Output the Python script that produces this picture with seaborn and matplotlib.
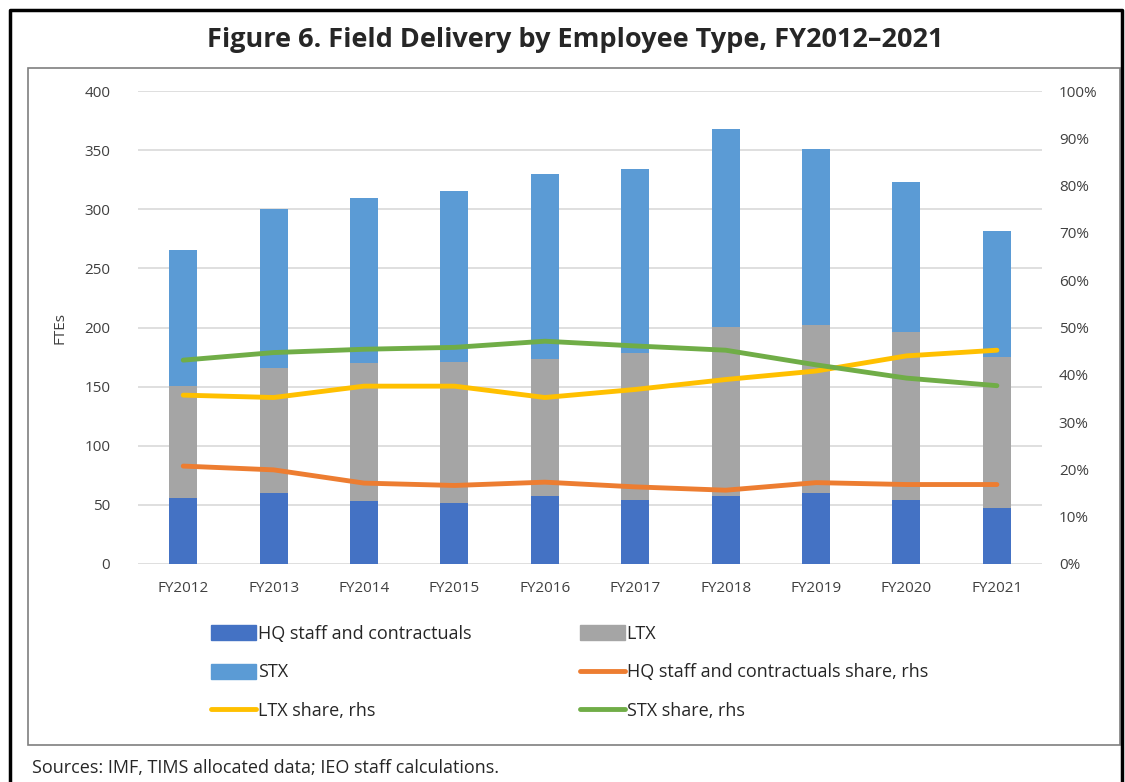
import numpy as np
import pandas as pd
import matplotlib
matplotlib.use("Agg")
import matplotlib.pyplot as plt
from matplotlib.patches import Patch, Rectangle
from matplotlib.lines import Line2D
import seaborn as sns

years = ["FY2012", "FY2013", "FY2014", "FY2015", "FY2016",
         "FY2017", "FY2018", "FY2019", "FY2020", "FY2021"]
hq = [55.5, 59.8, 53.3, 51.9, 57.5, 54.1, 57.5, 59.8, 54.1, 47.1]
ltx = [95.0, 105.7, 117.0, 119.2, 115.9, 124.6, 143.2, 142.6, 142.1, 128.2]
stx = [115.0, 134.5, 139.5, 144.3, 156.1, 155.1, 166.9, 148.6, 126.8, 106.3]
hq_share = [20.7, 19.9, 17.1, 16.6, 17.3, 16.3, 15.6, 17.2, 16.8, 16.8]
ltx_share = [35.7, 35.2, 37.6, 37.6, 35.2, 36.9, 39.0, 40.8, 44.0, 45.2]
stx_share = [43.1, 44.7, 45.4, 45.8, 47.1, 46.1, 45.2, 42.1, 39.3, 37.7]

c_hq, c_ltx, c_stx = "#4472C4", "#A5A5A5", "#5B9BD5"
c_hqs, c_ltxs, c_stxs = "#ED7D31", "#FFC000", "#70AD47"

sns.set_style("white")
plt.rcParams["font.family"] = ["Open Sans", "DejaVu Sans"]

df = pd.DataFrame({"year": years, "hq": hq, "ltx": ltx, "stx": stx})
df["hq_ltx"] = df["hq"] + df["ltx"]
df["total"] = df["hq_ltx"] + df["stx"]

fig = plt.figure(figsize=(11.25, 7.82), dpi=100)
ax = fig.add_axes([0.1227, 0.2788, 0.8036, 0.6048])

# stacked bars: draw cumulative totals back to front
for col, c in [("total", c_stx), ("hq_ltx", c_ltx), ("hq", c_hq)]:
    sns.barplot(data=df, x="year", y=col, color=c, width=0.31,
                saturation=1, linewidth=0, edgecolor="none", ax=ax, zorder=2)

ax.set_ylim(0, 400)
ax.set_yticks(np.arange(0, 401, 50))
ax.set_xlim(-0.5, len(years) - 0.5)
ax.yaxis.grid(True, color="#D9D9D9", lw=1.2, zorder=0)
ax.set_axisbelow(True)
for s in ax.spines.values():
    s.set_visible(False)
ax.set_xlabel("")
ax.set_ylabel("FTEs", fontsize=11, color="#404040", labelpad=12)
ax.tick_params(axis="both", length=0, labelsize=11, colors="#404040")
ax.tick_params(axis="x", pad=12)
ax.tick_params(axis="y", pad=20)

ax2 = ax.twinx()
pos = np.arange(len(years))
shares = pd.DataFrame({"x": pos, "hq": hq_share, "ltx": ltx_share, "stx": stx_share})
sns.lineplot(data=shares, x="x", y="hq", color=c_hqs, lw=3.5, ax=ax2)
sns.lineplot(data=shares, x="x", y="ltx", color=c_ltxs, lw=3.5, ax=ax2)
sns.lineplot(data=shares, x="x", y="stx", color=c_stxs, lw=3.5, ax=ax2)
ax2.set_ylim(0, 100)
ax2.set_yticks(np.arange(0, 101, 10))
ax2.set_yticklabels([f"{v}%" for v in range(0, 101, 10)])
ax2.set_ylabel("")
ax2.set_xlabel("")
ax2.set_xlim(-0.5, len(years) - 0.5)
ax2.tick_params(axis="y", length=0, labelsize=11, colors="#404040", pad=12)
for s in ax2.spines.values():
    s.set_visible(False)

handles = [
    Patch(color=c_hq, label="HQ staff and contractuals"),
    Patch(color=c_stx, label="STX"),
    Line2D([], [], color=c_ltxs, lw=3.5, label="LTX share, rhs"),
    Patch(color=c_ltx, label="LTX"),
    Line2D([], [], color=c_hqs, lw=3.5, label="HQ staff and contractuals share, rhs"),
    Line2D([], [], color=c_stxs, lw=3.5, label="STX share, rhs"),
]
fig.legend(handles=handles, ncol=2, loc="upper left",
           bbox_to_anchor=(0.173, 0.222), bbox_transform=fig.transFigure,
           frameon=False, fontsize=13, handlelength=2.5, handleheight=0.9,
           handletextpad=0.1, columnspacing=6.0, labelspacing=1.15)

# inner chart frame and outer frame
fig.patches.append(Rectangle((28 / 1125, 1 - 745 / 782), 1092 / 1125, 677 / 782,
                             transform=fig.transFigure, fill=False,
                             edgecolor="#7F7F7F", lw=1.2))
fig.add_artist(Line2D([10 / 1125, 10 / 1125, 1122 / 1125, 1122 / 1125],
                      [0, 1 - 10 / 782, 1 - 10 / 782, 0],
                      transform=fig.transFigure, color="black", lw=2.5))

fig.text(0.511, 1 - 40 / 782, "Figure 6. Field Delivery by Employee Type, FY2012\u20132021",
         ha="center", va="center", fontsize=19.5, fontweight="bold")
fig.text(32 / 1125, 1 - 768 / 782, "Sources: IMF, TIMS allocated data; IEO staff calculations.",
         ha="left", va="center", fontsize=13)

fig.savefig("out.png", dpi=100)
